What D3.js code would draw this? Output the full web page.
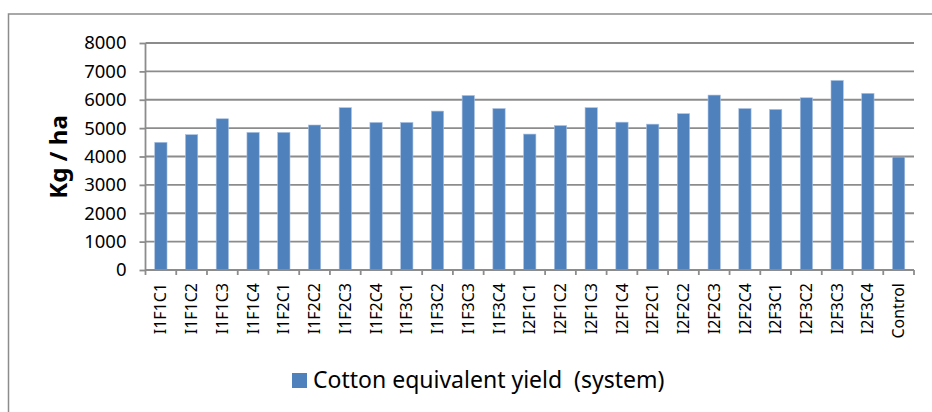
<!DOCTYPE html>
<html>
<head>
<meta charset="utf-8">
<script src="https://cdn.jsdelivr.net/npm/d3@7"></script>
<style>
  body { margin: 0; background: #fff; }
  svg { font-family: "Noto Sans", "Open Sans", sans-serif; }
</style>
</head>
<body>
<svg width="932" height="412"></svg>
<script>
const categories = ['I1F1C1', 'I1F1C2', 'I1F1C3', 'I1F1C4', 'I1F2C1', 'I1F2C2', 'I1F2C3', 'I1F2C4',
    'I1F3C1', 'I1F3C2', 'I1F3C3', 'I1F3C4', 'I2F1C1', 'I2F1C2', 'I2F1C3', 'I2F1C4',
    'I2F2C1', 'I2F2C2', 'I2F2C3', 'I2F2C4', 'I2F3C1', 'I2F3C2', 'I2F3C3', 'I2F3C4', 'Control'];
const yieldValues = [4500, 4770, 5330, 4850, 4850, 5110, 5720, 5200,
    5200, 5600, 6150, 5690, 4790, 5090, 5720, 5210,
    5140, 5510, 6165, 5690, 5660, 6070, 6680, 6225, 3980];
const yTicks = [0, 1000, 2000, 3000, 4000, 5000, 6000, 7000, 8000];
const seriesName = 'Cotton equivalent yield  (system)';
const yTitle = 'Kg / ha';

const svg = d3.select('svg'),
    margin = {top: 43, right: 18, bottom: 142, left: 145.5},
    width = +svg.attr('width'),
    height = +svg.attr('height');

const gray = '#8c8c8c';
const barColor = '#4f81bd';

// chart frame (right and bottom edges fall outside the picture)
svg.append('rect')
    .attr('x', 8.5).attr('y', 14)
    .attr('width', 940).attr('height', 420)
    .attr('fill', 'none')
    .attr('stroke', gray)
    .attr('stroke-width', 1.5);

const x = d3.scaleBand()
    .domain(categories)
    .range([margin.left, width - margin.right])
    .paddingInner(0.6)
    .paddingOuter(0.3);

const y = d3.scaleLinear()
    .domain([0, 8000])
    .range([height - margin.bottom, margin.top]);

// gridlines
svg.append('g')
    .selectAll('line')
    .data(yTicks.filter(d => d > 0))
    .enter().append('line')
    .attr('x1', margin.left)
    .attr('x2', width - margin.right)
    .attr('y1', d => y(d))
    .attr('y2', d => y(d))
    .attr('stroke', gray)
    .attr('stroke-width', 1.8);

// bars
svg.append('g')
    .selectAll('rect')
    .data(yieldValues)
    .enter().append('rect')
    .attr('x', (d, i) => x(categories[i]))
    .attr('y', d => y(d))
    .attr('width', x.bandwidth())
    .attr('height', d => y(0) - y(d))
    .attr('fill', barColor)
    .attr('stroke', '#a9c0e0')
    .attr('stroke-width', 0.6);

// y axis
const yAxis = svg.append('g')
    .attr('transform', 'translate(' + margin.left + ',0)')
    .call(d3.axisLeft(y).tickValues(yTicks).tickSize(6).tickPadding(13).tickFormat(d3.format('d')));
yAxis.selectAll('line, path').attr('stroke', gray).attr('stroke-width', 1.8);
yAxis.select('.domain').attr('d', 'M0,' + y(8000) + 'V' + y(0));
yAxis.selectAll('text')
    .attr('font-size', 18.5)
    .attr('font-family', '"Noto Sans", sans-serif')
    .attr('fill', '#000');

// x axis: ticks sit at the category boundaries
const boundaries = d3.range(categories.length + 1).map(i => margin.left + i * (width - margin.right - margin.left) / categories.length);
const xAxis = svg.append('g');
xAxis.append('line')
    .attr('x1', margin.left).attr('x2', width - margin.right)
    .attr('y1', y(0)).attr('y2', y(0))
    .attr('stroke', gray).attr('stroke-width', 1.8);
xAxis.selectAll('.tick')
    .data(boundaries)
    .enter().append('line')
    .attr('x1', d => d).attr('x2', d => d)
    .attr('y1', y(0)).attr('y2', y(0) + 5)
    .attr('stroke', gray).attr('stroke-width', 1.8);
xAxis.selectAll('text')
    .data(categories)
    .enter().append('text')
    .attr('transform', d => 'translate(' + (x(d) + x.bandwidth() / 2) + ',' + (y(0) + 13) + ') rotate(-90)')
    .attr('dy', '0.35em')
    .attr('text-anchor', 'end')
    .attr('font-size', 16)
    .text(d => d);

// y title
svg.append('text')
    .attr('transform', 'translate(59,157) rotate(-90)')
    .attr('text-anchor', 'middle')
    .attr('dy', '0.35em')
    .attr('font-size', 24)
    .attr('font-weight', 'bold')
    .text(yTitle);

// legend
const legend = svg.append('g');
legend.append('rect')
    .attr('x', 292).attr('y', 373)
    .attr('width', 15).attr('height', 15)
    .attr('fill', barColor);
legend.append('text')
    .attr('x', 313).attr('y', 387.5)
    .attr('font-size', 23)
    .style('white-space', 'pre')
    .text(seriesName);
</script>
</body>
</html>
